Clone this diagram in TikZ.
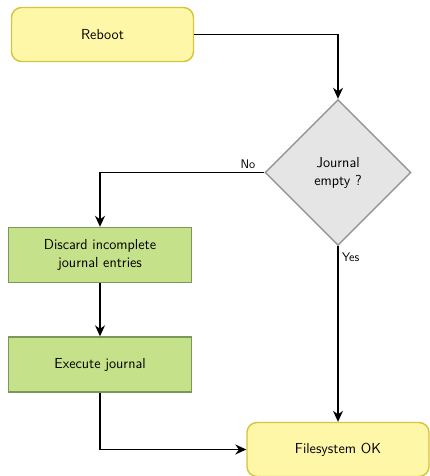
\documentclass[tikz,border=0pt]{standalone}
\usetikzlibrary{shapes.geometric, arrows.meta, positioning}
\definecolor{yellowfill}{RGB}{255,247,168}
\definecolor{yellowline}{RGB}{214,196,58}
\definecolor{greenfill}{RGB}{197,225,138}
\definecolor{greenline}{RGB}{122,153,89}
\definecolor{grayfill}{RGB}{229,229,229}
\definecolor{grayline}{RGB}{150,150,150}
\begin{document}
\begin{tikzpicture}[
    x=1pt, y=-1pt,
    font=\sffamily\fontsize{14.5}{18}\selectfont,
    startstop/.style={rectangle, draw=yellowline, fill=yellowfill, line width=1.4pt, rounded corners=10pt, minimum width=182pt, minimum height=54pt, align=center},
    process/.style={rectangle, draw=greenline, fill=greenfill, line width=1.4pt, minimum width=183pt, minimum height=55pt, align=center},
    decision/.style={diamond, draw=grayline, fill=grayfill, line width=1.4pt, minimum width=146pt, minimum height=146pt, inner sep=0pt, align=center},
    arrow/.style={-{Stealth[length=11pt,width=10pt]}, line width=1.4pt},
    lbl/.style={font=\sffamily\fontsize{12.5}{15}\selectfont}
]
    \useasboundingbox (0,0) rectangle (429,476);

    \node[startstop] (reboot) at (102.5,34.5) {Reboot};
    \node[decision] (journal) at (338,172.5) {Journal\\empty ?};
    \node[process] (discard) at (100,255) {Discard incomplete\\journal entries};
    \node[process] (execute) at (100,364.5) {Execute journal};
    \node[startstop] (fsok) at (338,449.5) {Filesystem OK};

    \draw[arrow] (reboot.east) -| (journal.north);
    \draw[arrow] (journal.west) -| node[lbl, pos=0.05, above] {No} (discard.north);
    \draw[arrow] (journal.south) -- node[lbl, pos=0.06, right] {Yes} (fsok.north);
    \draw[arrow] (discard) -- (execute);
    \draw[arrow] (execute.south) |- (fsok.west);
\end{tikzpicture}
\end{document}
